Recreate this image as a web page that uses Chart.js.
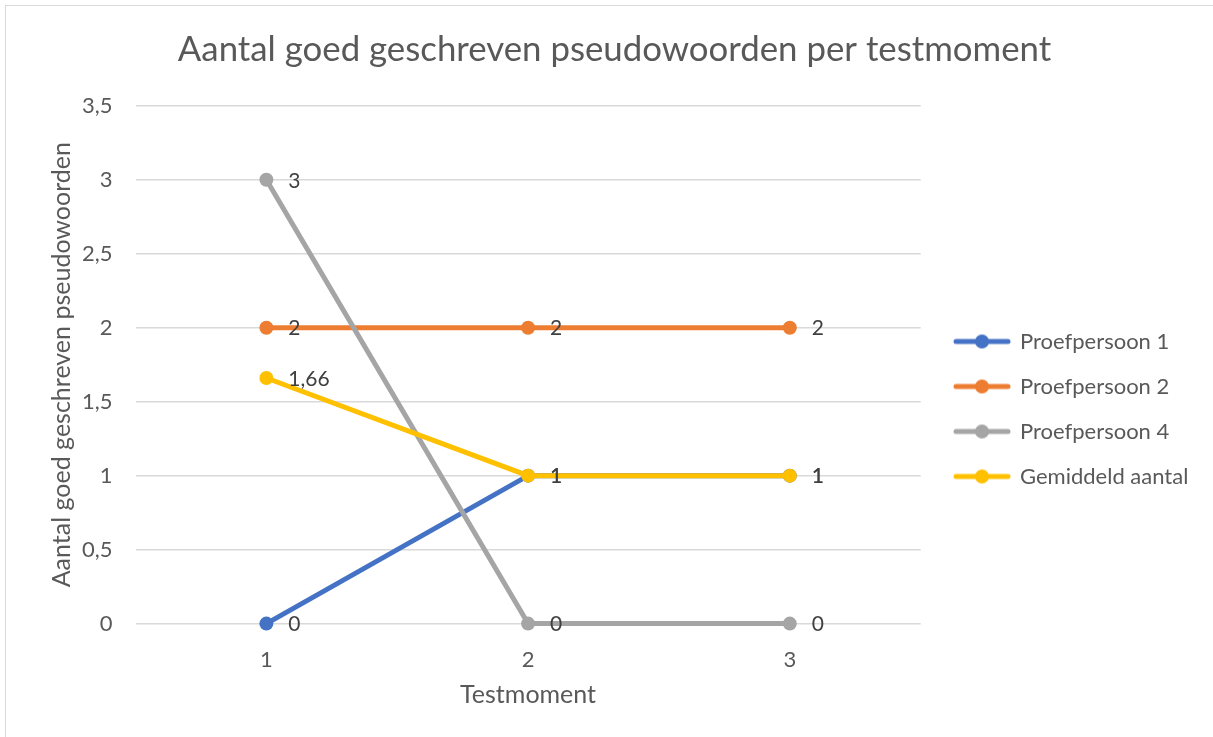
<!DOCTYPE html>
<html>
<head>
<meta charset="utf-8">
<script src="https://cdn.jsdelivr.net/npm/chart.js@4/dist/chart.umd.min.js"></script>
<style>
  html, body { margin: 0; padding: 0; background: #fff; }
  #wrap { width: 1213px; height: 737px; position: relative; }
</style>
</head>
<body>
<div id="wrap"><canvas id="c" width="1213" height="737"></canvas></div>
<script>
const categories = ['1', '2', '3'];
const seriesNames = ['Proefpersoon 1', 'Proefpersoon 2', 'Proefpersoon 4', 'Gemiddeld aantal'];
const proefpersoon1 = [0, 1, 1];
const proefpersoon2 = [2, 2, 2];
const proefpersoon4 = [3, 0, 0];
const gemiddeld = [1.66, 1, 1];
const seriesColors = ['#4472C4', '#ED7D31', '#A5A5A5', '#FFC000'];
const chartTitle = 'Aantal goed geschreven pseudowoorden per testmoment';
const xTitle = 'Testmoment';
const yTitle = 'Aantal goed geschreven pseudowoorden';

const FONT = 'Lato, "Open Sans", sans-serif';
const fmt = v => String(v).replace('.', ',');

function legendMarker(color) {
  const c = document.createElement('canvas');
  c.width = 58; c.height = 16;
  const x = c.getContext('2d');
  x.strokeStyle = color; x.lineWidth = 5; x.lineCap = 'round';
  x.beginPath(); x.moveTo(3, 8); x.lineTo(55, 8); x.stroke();
  x.fillStyle = color;
  x.beginPath(); x.arc(29, 8, 7, 0, Math.PI * 2); x.fill();
  return c;
}
const markers = seriesColors.map(legendMarker);

const dataLabels = {
  id: 'dataLabels',
  afterDatasetsDraw(chart) {
    const ctx = chart.ctx;
    ctx.save();
    ctx.font = '21px ' + FONT;
    ctx.fillStyle = '#404040';
    ctx.textAlign = 'left';
    ctx.textBaseline = 'middle';
    chart.data.datasets.forEach((ds, i) => {
      const meta = chart.getDatasetMeta(i);
      meta.data.forEach((pt, j) => {
        ctx.fillText(fmt(ds.data[j]), pt.x + 22, pt.y + 1);
      });
    });
    ctx.restore();
  }
};

const boxShift = {
  id: 'boxShift',
  afterLayout(chart) {
    const lg = chart.legend;
    if (lg) {
      const dx = 932 - lg.left;
      const dy = 37;
      lg.left += dx; lg.right += dx;
      lg.top += dy; lg.bottom += dy;
    }
    const tb = chart.titleBlock;
    if (tb) { tb.left += 11; tb.right += 11; }
  }
};

const frame = {
  id: 'frame',
  afterDraw(chart) {
    const ctx = chart.ctx;
    ctx.save();
    ctx.strokeStyle = '#d9d9d9';
    ctx.lineWidth = 1;
    ctx.strokeRect(5.5, 5.5, 1230, 760);
    ctx.restore();
  }
};

const allSeries = [proefpersoon1, proefpersoon2, proefpersoon4, gemiddeld];
new Chart(document.getElementById('c'), {
  type: 'line',
  data: {
    labels: categories,
    datasets: allSeries.map((d, i) => ({
      label: seriesNames[i],
      data: d,
      borderColor: seriesColors[i],
      backgroundColor: seriesColors[i],
      borderWidth: 5,
      pointRadius: 7,
      pointHoverRadius: 7,
      pointBorderWidth: 0,
      order: allSeries.length - i,
      clip: false,
      tension: 0
    }))
  },
  options: {
    responsive: false,
    animation: false,
    layout: { padding: { left: 20, right: 26, top: 29, bottom: 22 } },
    plugins: {
      tooltip: { enabled: false },
      title: {
        display: true, text: chartTitle, color: '#595959',
        font: { family: FONT, size: 34.8, weight: 'normal' },
        padding: { top: 0, bottom: 35 }
      },
      legend: {
        position: 'right',
        align: 'center',
        labels: {
          usePointStyle: true,
          pointStyleWidth: 54,
          boxHeight: 16,
          padding: 23,
          color: '#595959',
          font: { family: FONT, size: 22 },
          sort: (a, b) => a.datasetIndex - b.datasetIndex,
          generateLabels(chart) {
            const items = Chart.defaults.plugins.legend.labels.generateLabels(chart);
            items.forEach(it => { it.pointStyle = markers[it.datasetIndex]; });
            return items;
          }
        }
      }
    },
    scales: {
      x: {
        offset: true,
        grid: { display: false, drawTicks: false },
        border: { display: false },
        ticks: { color: '#595959', font: { family: FONT, size: 22 }, padding: 23 },
        title: { display: true, text: xTitle, color: '#595959', font: { family: FONT, size: 25 }, padding: { top: -16, bottom: 5 } }
      },
      y: {
        min: 0, max: 3.5,
        grid: { color: '#d9d9d9', lineWidth: 1.5, drawTicks: false },
        border: { display: false },
        ticks: { stepSize: 0.5, color: '#595959', font: { family: FONT, size: 22 }, padding: 23, callback: v => fmt(v) },
        title: { display: true, text: yTitle, color: '#595959', font: { family: FONT, size: 25 }, padding: { top: 27, bottom: -18 } }
      }
    }
  },
  plugins: [dataLabels, boxShift, frame]
});
</script>
</body>
</html>
